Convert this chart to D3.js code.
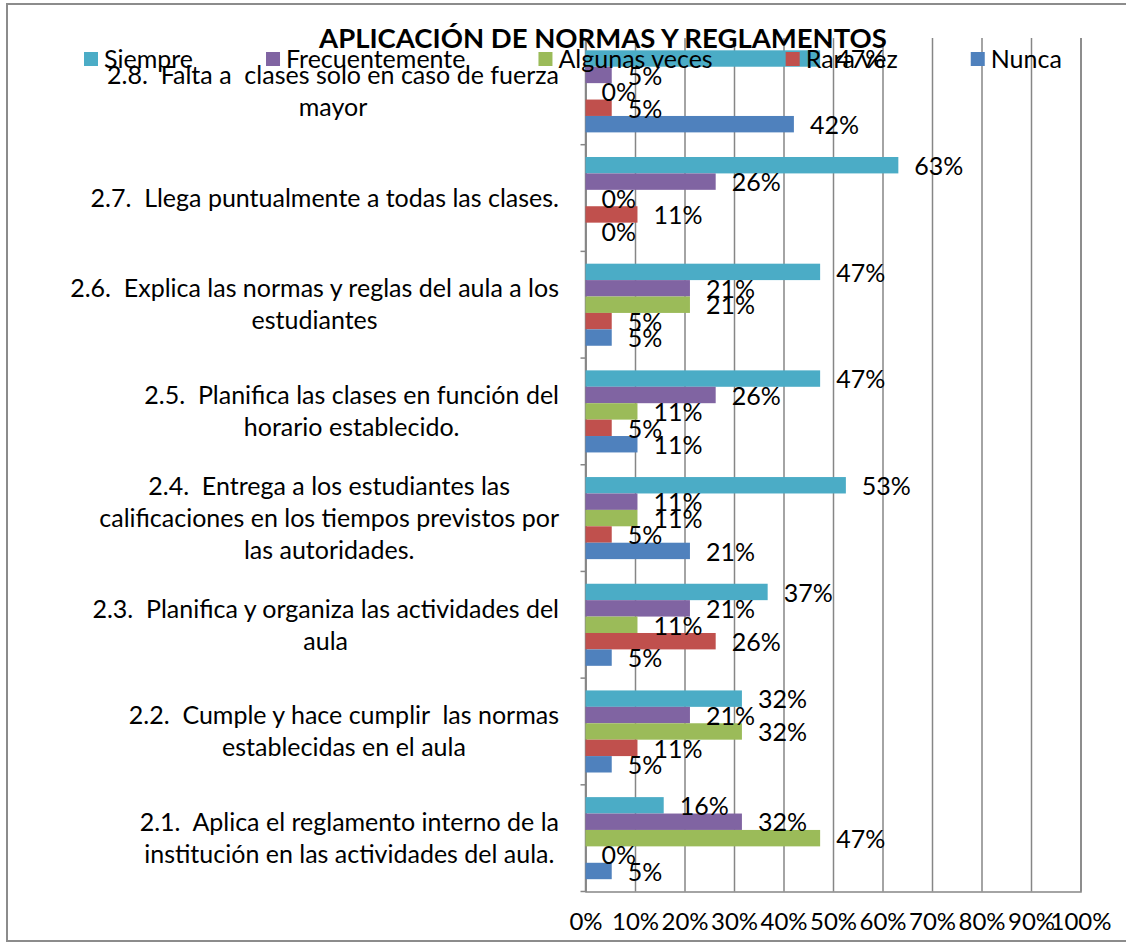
<!DOCTYPE html>
<html>
<head>
<meta charset="utf-8">
<script src="https://cdn.jsdelivr.net/npm/d3@7/dist/d3.min.js"></script>
<style>
body { margin: 0; background: #fff; }
svg text { font-family: Lato, "Open Sans", sans-serif; fill: #000; white-space: pre; }
</style>
</head>
<body>
<div id="chart"></div>
<script>
// categories, bottom to top as in the source sheet (2.1 drawn at the bottom)
var categoryLines = [
    ["2.1.  Aplica el reglamento interno de la", "institución en las actividades del aula."],
    ["2.2.  Cumple y hace cumplir  las normas", "establecidas en el aula"],
    ["2.3.  Planifica y organiza las actividades del", "aula"],
    ["2.4.  Entrega a los estudiantes las", "calificaciones en los tiempos previstos por", "las autoridades."],
    ["2.5.  Planifica las clases en función del", "horario establecido."],
    ["2.6.  Explica las normas y reglas del aula a los", "estudiantes"],
    ["2.7.  Llega puntualmente a todas las clases."],
    ["2.8.  Falta a  clases solo en caso de fuerza", "mayor"]
];

var seriesNames = ["Siempre", "Frecuentemente", "Algunas veces", "Rara vez", "Nunca"];

// percentages per category (2.1 ... 2.8)
var siempre        = [15.8, 31.6, 36.8, 52.6, 47.4, 47.4, 63.2, 47.4];
var frecuentemente = [31.6, 21.1, 21.1, 10.5, 26.3, 21.1, 26.3, 5.3];
var algunasVeces   = [47.4, 31.6, 10.5, 10.5, 10.5, 21.1, 0, 0];
var raraVez        = [0, 10.5, 26.3, 5.3, 5.3, 5.3, 10.5, 5.3];
var nunca          = [5.3, 5.3, 5.3, 21.1, 10.5, 5.3, 0, 42.1];

var xTicks = [0, 10, 20, 30, 40, 50, 60, 70, 80, 90, 100];

var seriesColors = ["#4bacc6", "#8064a2", "#9bbb59", "#c0504d", "#4f81bd"];

(function draw() {
    "use strict";

    var width = 1126, height = 944;
    var plot = { left: 585.5, right: 1080.5, top: 38, bottom: 891.5 };
    var fontSize = 25;

    var seriesValues = [siempre, frecuentemente, algunasVeces, raraVez, nunca];
    var catIds = categoryLines.map(function(d, i) { return i; });

    var svg = d3.select("#chart").append("svg")
        .attr("width", width)
        .attr("height", height);

    // chart area border
    svg.append("rect")
        .attr("x", 7).attr("y", 4)
        .attr("width", width).attr("height", 937)
        .attr("fill", "#fff")
        .attr("stroke", "#8c8c8c")
        .attr("stroke-width", 2);

    var x = d3.scaleLinear().domain([0, 100]).range([plot.left, plot.right]);

    var y0 = d3.scaleBand()
        .domain(catIds.slice().reverse())
        .range([plot.top, plot.bottom])
        .paddingInner(1.5 / 6.5)
        .paddingOuter(0.75 / 6.5);

    var y1 = d3.scaleBand()
        .domain(d3.range(seriesNames.length))
        .range([0, y0.bandwidth()]);

    // value axis with gridlines
    var xAxis = svg.append("g")
        .attr("transform", "translate(0," + plot.bottom + ")")
        .call(d3.axisBottom(x)
            .tickValues(xTicks)
            .tickSize(-(plot.bottom - plot.top))
            .tickPadding(21)
            .tickFormat(function(d) { return d + "%"; }));

    xAxis.select(".domain").attr("stroke", "#868686").attr("stroke-width", 1.5);
    xAxis.selectAll(".tick line").attr("stroke", "#868686").attr("stroke-width", 1.5);
    xAxis.selectAll(".tick text")
        .attr("font-size", 24)
        .attr("fill", "#000");

    // category axis line + ticks between categories
    var catAxis = svg.append("g");
    catAxis.append("line")
        .attr("x1", plot.left).attr("x2", plot.left)
        .attr("y1", plot.top).attr("y2", plot.bottom)
        .attr("stroke", "#868686").attr("stroke-width", 1.5);

    var step = y0.step();
    catAxis.selectAll(".ctick")
        .data(d3.range(catIds.length + 1))
        .enter().append("line")
        .attr("class", "ctick")
        .attr("x1", plot.left - 5).attr("x2", plot.left)
        .attr("y1", function(d) { return plot.top + d * step; })
        .attr("y2", function(d) { return plot.top + d * step; })
        .attr("stroke", "#868686").attr("stroke-width", 1.5);

    // category labels: each block centered on itself, right-aligned to the axis
    var labelRight = 559;
    var lineHeight = 32;
    catIds.forEach(function(c) {
        var lines = categoryLines[c];
        var cy = y0(c) + y0.bandwidth() / 2;
        var g = svg.append("g");
        var texts = g.selectAll("text")
            .data(lines)
            .enter().append("text")
            .attr("font-size", fontSize)
            .attr("text-anchor", "middle")
            .attr("dy", "0.35em")
            .attr("y", function(d, i) { return cy + (i - (lines.length - 1) / 2) * lineHeight; })
            .text(function(d) { return d; });
        var maxW = 0;
        texts.each(function() { maxW = Math.max(maxW, this.getComputedTextLength()); });
        texts.attr("x", labelRight - maxW / 2);
    });

    // bars
    var rows = [];
    catIds.forEach(function(c) {
        seriesNames.forEach(function(s, si) {
            rows.push({ cat: c, series: si, value: seriesValues[si][c] });
        });
    });

    svg.append("g").selectAll("rect")
        .data(rows)
        .enter().append("rect")
        .attr("x", x(0))
        .attr("y", function(d) { return y0(d.cat) + y1(d.series); })
        .attr("width", function(d) { return x(d.value) - x(0); })
        .attr("height", y1.bandwidth())
        .attr("fill", function(d) { return seriesColors[d.series]; });

    // data labels
    svg.append("g").selectAll("text")
        .data(rows)
        .enter().append("text")
        .attr("font-size", fontSize)
        .attr("x", function(d) { return x(d.value) + 16; })
        .attr("y", function(d) { return y0(d.cat) + y1(d.series) + y1.bandwidth() / 2 + 1; })
        .attr("dy", "0.35em")
        .text(function(d) { return Math.round(d.value) + "%"; });

    // legend
    var legend = svg.append("g");
    var lx = 84;
    seriesNames.forEach(function(name, i) {
        legend.append("rect")
            .attr("x", lx).attr("y", 52)
            .attr("width", 14).attr("height", 14)
            .attr("fill", seriesColors[i]);
        var t = legend.append("text")
            .attr("x", lx + 20)
            .attr("y", 59)
            .attr("dy", "0.35em")
            .attr("font-size", fontSize)
            .text(name);
        lx += 20 + t.node().getComputedTextLength() + 73;
    });

    // title
    svg.append("text")
        .attr("x", 603)
        .attr("y", 48)
        .attr("text-anchor", "middle")
        .attr("font-size", 27.5)
        .attr("font-weight", "bold")
        .text("APLICACIÓN DE NORMAS Y REGLAMENTOS");
})();
</script>
</body>
</html>
